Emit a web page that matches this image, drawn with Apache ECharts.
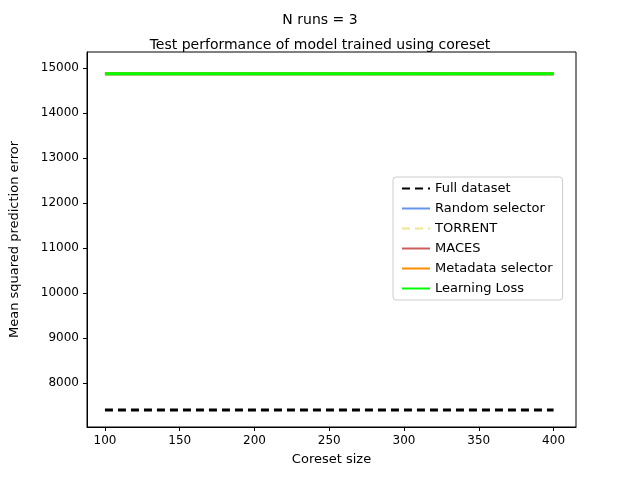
<!DOCTYPE html>
<html>
<head>
<meta charset="utf-8">
<script src="https://cdn.jsdelivr.net/npm/echarts@6/dist/echarts.min.js"></script>
<style>html,body{margin:0;padding:0;background:#fff}#chart{width:640px;height:480px}</style>
</head>
<body>
<div id="chart"></div>
<script>
// 数据
var coresetSizes = [100, 200, 300, 400];
var fullDataset = [7400, 7400, 7400, 7400];
var randomSel = [14870, 14870, 14870, 14870];
var torrent = [14870, 14870, 14870, 14870];
var maces = [14870, 14870, 14870, 14870];
var metadataSel = [14870, 14870, 14870, 14870];
var learningLoss = [14870, 14870, 14870, 14870];
var xTicks = [100, 150, 200, 250, 300, 350, 400];
var yTicks = [8000, 9000, 10000, 11000, 12000, 13000, 14000, 15000];

function pairs(vals) {
    var out = [];
    for (var i = 0; i < coresetSizes.length; i++) {
        out.push([coresetSizes[i], vals[i]]);
    }
    return out;
}

function line(name, vals, color, dashed) {
    return {
        name: name,
        type: 'line',
        data: pairs(vals),
        symbol: 'none',
        lineStyle: {color: color, width: 3, type: dashed ? [8, 5] : 'solid'},
        itemStyle: {color: color}
    };
}

var font = 'DejaVu Sans';
var chart = echarts.init(document.getElementById('chart'));
chart.setOption({
    animation: false,
    textStyle: {fontFamily: font},
    title: [
        {text: 'N runs = 3', left: 'center', top: 8, textStyle: {fontSize: 14, fontWeight: 'normal', color: '#000', fontFamily: font}},
        {text: 'Test performance of model trained using coreset', left: 'center', top: 33, textStyle: {fontSize: 14, fontWeight: 'normal', color: '#000', fontFamily: font}}
    ],
    grid: {left: 86, right: 64, top: 52, bottom: 53, show: true, borderColor: '#000', borderWidth: 1},
    legend: {
        orient: 'vertical', left: 393, top: 177,
        padding: [5, 10, 5, 8], itemGap: 7, itemWidth: 28, itemHeight: 14,
        borderColor: '#ccc', borderWidth: 1, borderRadius: 3,
        itemStyle: {opacity: 0},
        textStyle: {fontSize: 13, color: '#000', fontFamily: font},
        data: ['Full dataset', 'Random selector', 'TORRENT', 'MACES', 'Metadata selector', 'Learning Loss']
    },
    xAxis: {
        type: 'value', min: 88, max: 415,
        name: 'Coreset size', nameLocation: 'middle', nameGap: 26,
        nameTextStyle: {fontSize: 13, color: '#000'},
        splitLine: {show: false},
        axisLine: {lineStyle: {color: '#000'}},
        axisTick: {show: true, length: 4, lineStyle: {color: '#000'}, customValues: xTicks},
        axisLabel: {color: '#000', fontSize: 12, customValues: xTicks, formatter: function (v) { return String(v); }}
    },
    yAxis: {
        type: 'value', min: 7022, max: 15356,
        name: 'Mean squared prediction error', nameLocation: 'middle', nameGap: 66,
        nameTextStyle: {fontSize: 13, color: '#000'},
        splitLine: {show: false},
        axisLine: {show: true, lineStyle: {color: '#000'}},
        axisTick: {show: true, length: 4, lineStyle: {color: '#000'}, customValues: yTicks},
        axisLabel: {color: '#000', fontSize: 12, customValues: yTicks, formatter: function (v) { return String(v); }}
    },
    series: [
        line('Full dataset', fullDataset, '#000000', true),
        line('Random selector', randomSel, '#6495ED', false),
        line('TORRENT', torrent, '#F0E68C', true),
        line('MACES', maces, '#CD5C5C', false),
        line('Metadata selector', metadataSel, '#FF8C00', false),
        line('Learning Loss', learningLoss, '#00FF00', false)
    ]
});
</script>
</body>
</html>
